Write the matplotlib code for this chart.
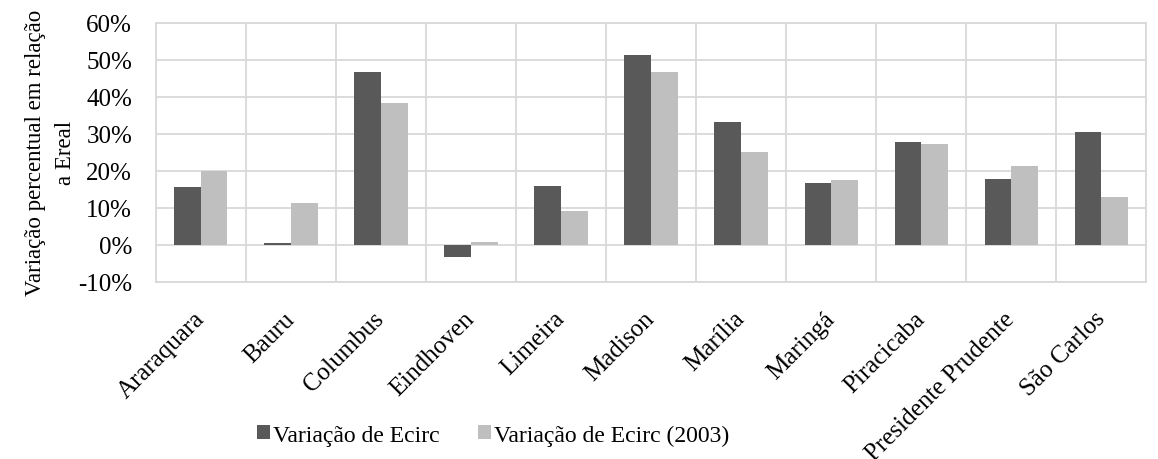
import matplotlib
matplotlib.use("Agg")
import matplotlib.pyplot as plt
import numpy as np
from matplotlib.ticker import FuncFormatter, MultipleLocator

categories = ["Araraquara", "Bauru", "Columbus", "Eindhoven", "Limeira", "Madison",
              "Marília", "Maringá", "Piracicaba", "Presidente Prudente", "São Carlos"]
ecirc = [15.5, 0.4, 46.7, -3.2, 15.9, 51.4, 33.3, 16.6, 27.8, 17.9, 30.6]
ecirc_2003 = [19.9, 11.2, 38.3, 0.8, 9.1, 46.8, 25.2, 17.5, 27.2, 21.3, 12.8]
series_names = ["Variação de Ecirc", "Variação de Ecirc (2003)"]
ylabel = "Variação percentual em relação\na Ereal"

plt.rcParams['font.family'] = ['Liberation Serif', 'DejaVu Serif']

fig = plt.figure(figsize=(11.58, 4.6), dpi=100)
ax = fig.add_axes([0.1345, 0.3854, 0.990 - 0.1345, 0.948 - 0.3854])

x = np.arange(len(categories))
w = 0.296
b1 = ax.bar(x - w / 2, ecirc, w, color="#595959", label=series_names[0], zorder=3)
b2 = ax.bar(x + w / 2, ecirc_2003, w, color="#bfbfbf", label=series_names[1], zorder=3)

ax.set_xlim(-0.5, len(categories) - 0.5)
ax.set_ylim(-10, 60)
ax.yaxis.set_major_locator(MultipleLocator(10))
ax.yaxis.set_major_formatter(FuncFormatter(lambda v, p: f"{v:.0f}%"))
ax.set_xticks(x)
ax.set_xticks(np.arange(len(categories) + 1) - 0.5, minor=True)
ax.set_xticklabels(categories, rotation=45, ha="right", va="center", rotation_mode="anchor")
ax.grid(True, which="major", axis="y", color="#d9d9d9", linewidth=1.3, zorder=0)
ax.grid(True, which="minor", axis="x", color="#d9d9d9", linewidth=1.3, zorder=0)
ax.tick_params(axis="both", which="both", length=0, labelsize=18)
ax.tick_params(axis="x", pad=24)
ax.tick_params(axis="y", pad=17)
for s in ax.spines.values():
    s.set_color("#d9d9d9")
    s.set_linewidth(1.3)

ax.set_ylabel(ylabel, fontsize=16.5, multialignment="center", linespacing=1.55)
ax.yaxis.set_label_coords((76 - 155.7) / 990.9, 0.5)

fig.legend(handles=[b1, b2], labels=series_names, loc="center",
           bbox_to_anchor=(493 / 1158, 1 - 436 / 460), ncol=2, frameon=False,
           fontsize=17, handlelength=0.55, handleheight=0.55, handletextpad=0.15,
           columnspacing=1.6)

fig.savefig("out.png", dpi=100)
